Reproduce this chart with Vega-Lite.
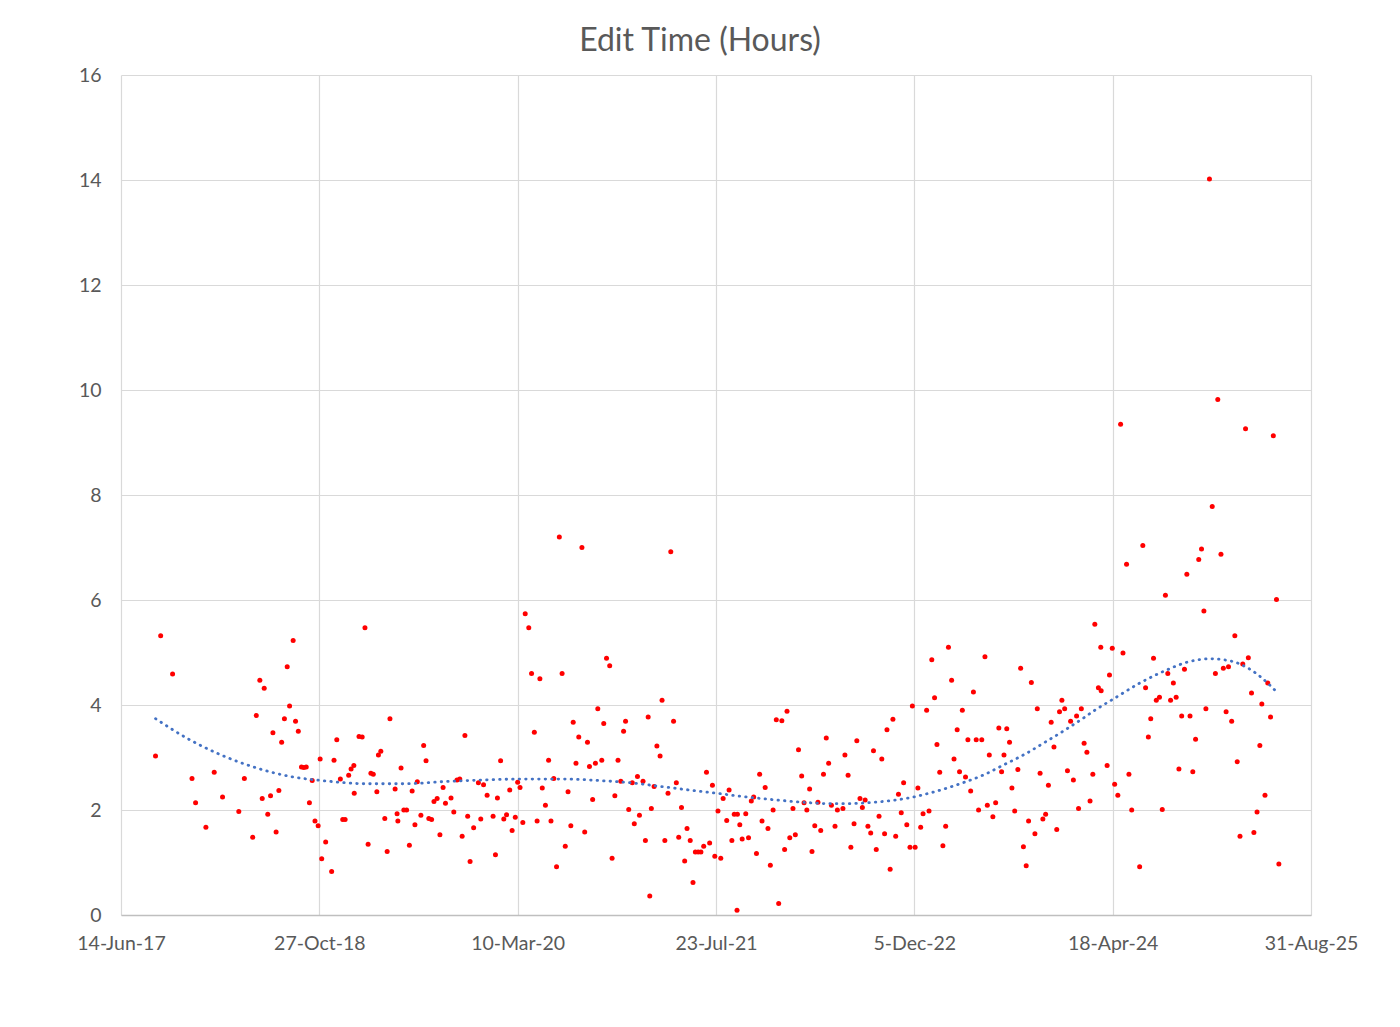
{
  "$schema": "https://vega.github.io/schema/vega-lite/v6.json",
  "width": 1190,
  "height": 840,
  "autosize": {"type": "none"},
  "padding": {"left": 121, "top": 75, "right": 89, "bottom": 112},
  "background": "white",
  "title": {
    "text": "Edit Time (Hours)",
    "font": "Lato",
    "fontSize": 32,
    "fontWeight": "normal",
    "color": "#595959",
    "anchor": "middle",
    "dx": -16,
    "offset": 7
  },
  "config": {
    "view": {"stroke": null},
    "axis": {
      "labelFont": "Lato",
      "labelFontSize": 19.5,
      "labelColor": "#595959",
      "gridColor": "#D9D9D9",
      "gridWidth": 1.2,
      "ticks": false,
      "title": null
    }
  },
  "datasets": {
    "edits": [
      {"date": 42987, "hours": 3.03}, {"date": 43000, "hours": 5.32}, {"date": 43030, "hours": 4.59},
      {"date": 43079, "hours": 2.60}, {"date": 43088, "hours": 2.14}, {"date": 43114, "hours": 1.67},
      {"date": 43135, "hours": 2.72}, {"date": 43156, "hours": 2.25}, {"date": 43197, "hours": 1.97},
      {"date": 43211, "hours": 2.60}, {"date": 43232, "hours": 1.48}, {"date": 43241, "hours": 3.80},
      {"date": 43250, "hours": 4.47}, {"date": 43256, "hours": 2.22}, {"date": 43261, "hours": 4.32},
      {"date": 43270, "hours": 1.92}, {"date": 43277, "hours": 2.27}, {"date": 43283, "hours": 3.47},
      {"date": 43291, "hours": 1.58}, {"date": 43298, "hours": 2.37}, {"date": 43305, "hours": 3.29},
      {"date": 43312, "hours": 3.74}, {"date": 43319, "hours": 4.73}, {"date": 43325, "hours": 3.98},
      {"date": 43334, "hours": 5.23}, {"date": 43340, "hours": 3.69}, {"date": 43347, "hours": 3.50},
      {"date": 43355, "hours": 2.82}, {"date": 43361, "hours": 2.81}, {"date": 43367, "hours": 2.82},
      {"date": 43375, "hours": 2.14}, {"date": 43382, "hours": 2.56}, {"date": 43389, "hours": 1.79},
      {"date": 43397, "hours": 1.70}, {"date": 43402, "hours": 2.97}, {"date": 43406, "hours": 1.07},
      {"date": 43416, "hours": 1.39}, {"date": 43431, "hours": 0.83}, {"date": 43437, "hours": 2.95},
      {"date": 43444, "hours": 3.34}, {"date": 43453, "hours": 2.59}, {"date": 43459, "hours": 1.82},
      {"date": 43465, "hours": 1.82}, {"date": 43474, "hours": 2.66}, {"date": 43480, "hours": 2.78},
      {"date": 43487, "hours": 2.85}, {"date": 43488, "hours": 2.32}, {"date": 43500, "hours": 3.40},
      {"date": 43508, "hours": 3.39}, {"date": 43515, "hours": 5.47}, {"date": 43523, "hours": 1.35},
      {"date": 43530, "hours": 2.70}, {"date": 43536, "hours": 2.68}, {"date": 43545, "hours": 2.35},
      {"date": 43549, "hours": 3.05}, {"date": 43555, "hours": 3.12}, {"date": 43565, "hours": 1.84},
      {"date": 43571, "hours": 1.21}, {"date": 43578, "hours": 3.74}, {"date": 43591, "hours": 2.40},
      {"date": 43596, "hours": 1.93}, {"date": 43598, "hours": 1.79}, {"date": 43606, "hours": 2.80},
      {"date": 43613, "hours": 2.00}, {"date": 43620, "hours": 2.00}, {"date": 43627, "hours": 1.33},
      {"date": 43634, "hours": 2.36}, {"date": 43641, "hours": 1.72}, {"date": 43647, "hours": 2.54},
      {"date": 43656, "hours": 1.90}, {"date": 43663, "hours": 3.23}, {"date": 43669, "hours": 2.94},
      {"date": 43676, "hours": 1.84}, {"date": 43683, "hours": 1.82}, {"date": 43689, "hours": 2.16},
      {"date": 43697, "hours": 2.22}, {"date": 43704, "hours": 1.53}, {"date": 43712, "hours": 2.43},
      {"date": 43718, "hours": 2.13}, {"date": 43732, "hours": 2.23}, {"date": 43739, "hours": 1.96},
      {"date": 43747, "hours": 2.57}, {"date": 43754, "hours": 2.59}, {"date": 43760, "hours": 1.50},
      {"date": 43767, "hours": 3.42}, {"date": 43774, "hours": 1.88}, {"date": 43780, "hours": 1.02},
      {"date": 43789, "hours": 1.66}, {"date": 43801, "hours": 2.52}, {"date": 43807, "hours": 1.83},
      {"date": 43814, "hours": 2.48}, {"date": 43823, "hours": 2.28}, {"date": 43838, "hours": 1.88},
      {"date": 43844, "hours": 1.15}, {"date": 43849, "hours": 2.23}, {"date": 43857, "hours": 2.94},
      {"date": 43865, "hours": 1.83}, {"date": 43872, "hours": 1.91}, {"date": 43880, "hours": 2.38},
      {"date": 43886, "hours": 1.61}, {"date": 43894, "hours": 1.86}, {"date": 43900, "hours": 2.53},
      {"date": 43906, "hours": 2.43}, {"date": 43913, "hours": 1.76}, {"date": 43919, "hours": 5.74},
      {"date": 43928, "hours": 5.47}, {"date": 43935, "hours": 4.60}, {"date": 43942, "hours": 3.48},
      {"date": 43949, "hours": 1.79}, {"date": 43956, "hours": 4.50}, {"date": 43962, "hours": 2.42},
      {"date": 43970, "hours": 2.09}, {"date": 43978, "hours": 2.95}, {"date": 43984, "hours": 1.79},
      {"date": 43991, "hours": 2.60}, {"date": 43998, "hours": 0.92}, {"date": 44005, "hours": 7.20},
      {"date": 44012, "hours": 4.60}, {"date": 44020, "hours": 1.31}, {"date": 44027, "hours": 2.35},
      {"date": 44034, "hours": 1.70}, {"date": 44040, "hours": 3.67}, {"date": 44047, "hours": 2.89},
      {"date": 44054, "hours": 3.39}, {"date": 44062, "hours": 7.00}, {"date": 44069, "hours": 1.58},
      {"date": 44076, "hours": 3.29}, {"date": 44081, "hours": 2.83}, {"date": 44089, "hours": 2.20},
      {"date": 44096, "hours": 2.89}, {"date": 44102, "hours": 3.93}, {"date": 44112, "hours": 2.95},
      {"date": 44117, "hours": 3.65}, {"date": 44124, "hours": 4.89}, {"date": 44132, "hours": 4.75},
      {"date": 44138, "hours": 1.08}, {"date": 44145, "hours": 2.27}, {"date": 44153, "hours": 2.95},
      {"date": 44160, "hours": 2.55}, {"date": 44167, "hours": 3.50}, {"date": 44172, "hours": 3.69},
      {"date": 44180, "hours": 2.01}, {"date": 44189, "hours": 2.52}, {"date": 44194, "hours": 1.74},
      {"date": 44202, "hours": 2.64}, {"date": 44207, "hours": 1.90}, {"date": 44216, "hours": 2.55},
      {"date": 44222, "hours": 1.42}, {"date": 44229, "hours": 3.77}, {"date": 44233, "hours": 0.36},
      {"date": 44237, "hours": 2.03}, {"date": 44244, "hours": 2.45}, {"date": 44251, "hours": 3.22},
      {"date": 44259, "hours": 3.03}, {"date": 44264, "hours": 4.09}, {"date": 44271, "hours": 1.42},
      {"date": 44279, "hours": 2.32}, {"date": 44286, "hours": 6.92}, {"date": 44293, "hours": 3.69},
      {"date": 44300, "hours": 2.52}, {"date": 44306, "hours": 1.48}, {"date": 44313, "hours": 2.05},
      {"date": 44321, "hours": 1.03}, {"date": 44327, "hours": 1.65}, {"date": 44335, "hours": 1.42},
      {"date": 44342, "hours": 0.62}, {"date": 44348, "hours": 1.20}, {"date": 44355, "hours": 1.20},
      {"date": 44362, "hours": 1.20}, {"date": 44369, "hours": 1.31}, {"date": 44376, "hours": 2.72},
      {"date": 44384, "hours": 1.37}, {"date": 44391, "hours": 2.47}, {"date": 44397, "hours": 1.12},
      {"date": 44405, "hours": 1.98}, {"date": 44412, "hours": 1.08}, {"date": 44418, "hours": 2.22},
      {"date": 44427, "hours": 1.80}, {"date": 44433, "hours": 2.38}, {"date": 44440, "hours": 1.42},
      {"date": 44446, "hours": 1.92}, {"date": 44453, "hours": 0.09}, {"date": 44454, "hours": 1.92},
      {"date": 44460, "hours": 1.72}, {"date": 44466, "hours": 1.45}, {"date": 44475, "hours": 1.93},
      {"date": 44482, "hours": 1.47}, {"date": 44489, "hours": 2.17}, {"date": 44495, "hours": 2.25},
      {"date": 44502, "hours": 1.17}, {"date": 44510, "hours": 2.68}, {"date": 44516, "hours": 1.79},
      {"date": 44524, "hours": 2.43}, {"date": 44531, "hours": 1.65}, {"date": 44537, "hours": 0.95},
      {"date": 44544, "hours": 2.00}, {"date": 44552, "hours": 3.72}, {"date": 44558, "hours": 0.22},
      {"date": 44566, "hours": 3.70}, {"date": 44573, "hours": 1.25}, {"date": 44579, "hours": 3.88},
      {"date": 44586, "hours": 1.47}, {"date": 44594, "hours": 2.03}, {"date": 44600, "hours": 1.53},
      {"date": 44608, "hours": 3.15}, {"date": 44616, "hours": 2.65}, {"date": 44622, "hours": 2.14},
      {"date": 44629, "hours": 2.00}, {"date": 44636, "hours": 2.40}, {"date": 44642, "hours": 1.21},
      {"date": 44649, "hours": 1.70}, {"date": 44657, "hours": 2.15}, {"date": 44664, "hours": 1.61},
      {"date": 44671, "hours": 2.68}, {"date": 44678, "hours": 3.37}, {"date": 44684, "hours": 2.89},
      {"date": 44691, "hours": 2.09}, {"date": 44700, "hours": 1.69}, {"date": 44706, "hours": 2.00},
      {"date": 44720, "hours": 2.03}, {"date": 44725, "hours": 3.05}, {"date": 44733, "hours": 2.66},
      {"date": 44740, "hours": 1.29}, {"date": 44748, "hours": 1.74}, {"date": 44755, "hours": 3.32},
      {"date": 44763, "hours": 2.22}, {"date": 44769, "hours": 2.05}, {"date": 44776, "hours": 2.19},
      {"date": 44783, "hours": 1.69}, {"date": 44790, "hours": 1.56}, {"date": 44797, "hours": 3.13},
      {"date": 44804, "hours": 1.25}, {"date": 44811, "hours": 1.88}, {"date": 44818, "hours": 2.97},
      {"date": 44825, "hours": 1.55}, {"date": 44831, "hours": 3.53}, {"date": 44839, "hours": 0.87},
      {"date": 44846, "hours": 3.73}, {"date": 44853, "hours": 1.50}, {"date": 44860, "hours": 2.30},
      {"date": 44867, "hours": 1.95}, {"date": 44873, "hours": 2.52}, {"date": 44881, "hours": 1.72},
      {"date": 44889, "hours": 1.29}, {"date": 44895, "hours": 3.98}, {"date": 44902, "hours": 1.29},
      {"date": 44909, "hours": 2.42}, {"date": 44916, "hours": 1.67}, {"date": 44922, "hours": 1.93},
      {"date": 44931, "hours": 3.90}, {"date": 44937, "hours": 1.98}, {"date": 44944, "hours": 4.86},
      {"date": 44951, "hours": 4.14}, {"date": 44957, "hours": 3.25}, {"date": 44964, "hours": 2.72},
      {"date": 44972, "hours": 1.32}, {"date": 44979, "hours": 1.69}, {"date": 44986, "hours": 5.10},
      {"date": 44994, "hours": 4.47}, {"date": 45000, "hours": 2.97}, {"date": 45008, "hours": 3.53},
      {"date": 45014, "hours": 2.73}, {"date": 45021, "hours": 3.90}, {"date": 45029, "hours": 2.63},
      {"date": 45035, "hours": 3.34}, {"date": 45042, "hours": 2.36}, {"date": 45049, "hours": 4.25},
      {"date": 45056, "hours": 3.34}, {"date": 45062, "hours": 2.00}, {"date": 45070, "hours": 3.34},
      {"date": 45078, "hours": 4.92}, {"date": 45084, "hours": 2.09}, {"date": 45089, "hours": 3.05},
      {"date": 45098, "hours": 1.87}, {"date": 45105, "hours": 2.14}, {"date": 45113, "hours": 3.56},
      {"date": 45120, "hours": 2.73}, {"date": 45126, "hours": 3.05}, {"date": 45133, "hours": 3.55},
      {"date": 45140, "hours": 3.29}, {"date": 45146, "hours": 2.42}, {"date": 45153, "hours": 1.98},
      {"date": 45161, "hours": 2.77}, {"date": 45168, "hours": 4.70}, {"date": 45175, "hours": 1.30},
      {"date": 45182, "hours": 0.94}, {"date": 45188, "hours": 1.79}, {"date": 45195, "hours": 4.43},
      {"date": 45204, "hours": 1.55}, {"date": 45210, "hours": 3.93}, {"date": 45217, "hours": 2.70},
      {"date": 45224, "hours": 1.83}, {"date": 45231, "hours": 1.92}, {"date": 45238, "hours": 2.47},
      {"date": 45245, "hours": 3.67}, {"date": 45252, "hours": 3.20}, {"date": 45259, "hours": 1.63},
      {"date": 45266, "hours": 3.87}, {"date": 45272, "hours": 4.09}, {"date": 45279, "hours": 3.93},
      {"date": 45286, "hours": 2.75}, {"date": 45294, "hours": 3.69}, {"date": 45301, "hours": 2.57},
      {"date": 45309, "hours": 3.79}, {"date": 45314, "hours": 2.03}, {"date": 45321, "hours": 3.93},
      {"date": 45328, "hours": 3.27}, {"date": 45335, "hours": 3.10}, {"date": 45343, "hours": 2.17},
      {"date": 45350, "hours": 2.68}, {"date": 45355, "hours": 5.54}, {"date": 45364, "hours": 4.33},
      {"date": 45370, "hours": 5.10}, {"date": 45371, "hours": 4.27}, {"date": 45386, "hours": 2.85},
      {"date": 45392, "hours": 4.57}, {"date": 45399, "hours": 5.08}, {"date": 45405, "hours": 2.49},
      {"date": 45413, "hours": 2.28}, {"date": 45420, "hours": 9.35}, {"date": 45426, "hours": 4.99},
      {"date": 45435, "hours": 6.68}, {"date": 45441, "hours": 2.68}, {"date": 45448, "hours": 2.00},
      {"date": 45468, "hours": 0.92}, {"date": 45476, "hours": 7.04}, {"date": 45483, "hours": 4.33},
      {"date": 45490, "hours": 3.39}, {"date": 45496, "hours": 3.74}, {"date": 45503, "hours": 4.89},
      {"date": 45510, "hours": 4.09}, {"date": 45518, "hours": 4.15}, {"date": 45525, "hours": 2.01},
      {"date": 45533, "hours": 6.09}, {"date": 45539, "hours": 4.60}, {"date": 45546, "hours": 4.09},
      {"date": 45553, "hours": 4.42}, {"date": 45560, "hours": 4.15}, {"date": 45567, "hours": 2.78},
      {"date": 45574, "hours": 3.79}, {"date": 45581, "hours": 4.68}, {"date": 45587, "hours": 6.49},
      {"date": 45595, "hours": 3.79}, {"date": 45602, "hours": 2.73}, {"date": 45609, "hours": 3.35},
      {"date": 45617, "hours": 6.77}, {"date": 45624, "hours": 6.97}, {"date": 45630, "hours": 5.79},
      {"date": 45635, "hours": 3.93}, {"date": 45644, "hours": 14.02}, {"date": 45651, "hours": 7.78},
      {"date": 45659, "hours": 4.60}, {"date": 45665, "hours": 9.82}, {"date": 45673, "hours": 6.87},
      {"date": 45679, "hours": 4.70}, {"date": 45686, "hours": 3.87}, {"date": 45692, "hours": 4.73},
      {"date": 45700, "hours": 3.69}, {"date": 45708, "hours": 5.32}, {"date": 45714, "hours": 2.92},
      {"date": 45721, "hours": 1.50}, {"date": 45728, "hours": 4.78}, {"date": 45735, "hours": 9.26},
      {"date": 45742, "hours": 4.90}, {"date": 45750, "hours": 4.23}, {"date": 45756, "hours": 1.57},
      {"date": 45764, "hours": 1.96}, {"date": 45771, "hours": 3.23}, {"date": 45776, "hours": 4.02},
      {"date": 45784, "hours": 2.28}, {"date": 45791, "hours": 4.42}, {"date": 45798, "hours": 3.77},
      {"date": 45805, "hours": 9.13}, {"date": 45813, "hours": 6.01}, {"date": 45819, "hours": 0.97}
    ],
    "trend": [
      {"date": 42987, "hours": 3.74}, {"date": 43068, "hours": 3.36}, {"date": 43152, "hours": 3.05},
      {"date": 43242, "hours": 2.80}, {"date": 43333, "hours": 2.63}, {"date": 43408, "hours": 2.56},
      {"date": 43519, "hours": 2.50}, {"date": 43616, "hours": 2.50}, {"date": 43712, "hours": 2.54},
      {"date": 43805, "hours": 2.57}, {"date": 43918, "hours": 2.59}, {"date": 44015, "hours": 2.59},
      {"date": 44107, "hours": 2.56}, {"date": 44183, "hours": 2.52}, {"date": 44259, "hours": 2.45},
      {"date": 44334, "hours": 2.38}, {"date": 44390, "hours": 2.33}, {"date": 44464, "hours": 2.26},
      {"date": 44540, "hours": 2.20}, {"date": 44616, "hours": 2.15}, {"date": 44691, "hours": 2.12},
      {"date": 44729, "hours": 2.12}, {"date": 44783, "hours": 2.14}, {"date": 44842, "hours": 2.18},
      {"date": 44879, "hours": 2.22}, {"date": 44952, "hours": 2.35}, {"date": 45023, "hours": 2.52},
      {"date": 45078, "hours": 2.68}, {"date": 45128, "hours": 2.87}, {"date": 45178, "hours": 3.06},
      {"date": 45227, "hours": 3.28}, {"date": 45275, "hours": 3.50}, {"date": 45324, "hours": 3.74},
      {"date": 45355, "hours": 3.90}, {"date": 45403, "hours": 4.12}, {"date": 45469, "hours": 4.42},
      {"date": 45537, "hours": 4.67}, {"date": 45590, "hours": 4.82}, {"date": 45646, "hours": 4.88},
      {"date": 45702, "hours": 4.83}, {"date": 45737, "hours": 4.72}, {"date": 45769, "hours": 4.56},
      {"date": 45796, "hours": 4.38}, {"date": 45813, "hours": 4.25}
    ]
  },
  "encoding": {
    "x": {
      "field": "date",
      "type": "quantitative",
      "scale": {"domain": [42900, 45900], "nice": false, "zero": false},
      "axis": {
        "values": [42900, 43400, 43900, 44400, 44900, 45400, 45900],
        "labelExpr": "utcFormat((datum.value - 25569) * 864e5, '%-d-%b-%y')",
        "labelFlush": false,
        "domainColor": "#BFBFBF",
        "domainWidth": 1.5,
        "labelPadding": 19
      }
    },
    "y": {
      "field": "hours",
      "type": "quantitative",
      "scale": {"domain": [0, 16], "nice": false},
      "axis": {
        "values": [0, 2, 4, 6, 8, 10, 12, 14, 16],
        "domain": false,
        "labelPadding": 20
      }
    }
  },
  "layer": [
    {
      "data": {"name": "edits"},
      "mark": {"type": "circle", "size": 25, "color": "#FF0000", "opacity": 1}
    },
    {
      "data": {"name": "trend"},
      "mark": {
        "type": "line",
        "interpolate": "monotone",
        "color": "#4472C4",
        "strokeWidth": 2.8,
        "strokeCap": "round",
        "strokeDash": [0.5, 6]
      }
    }
  ]
}
